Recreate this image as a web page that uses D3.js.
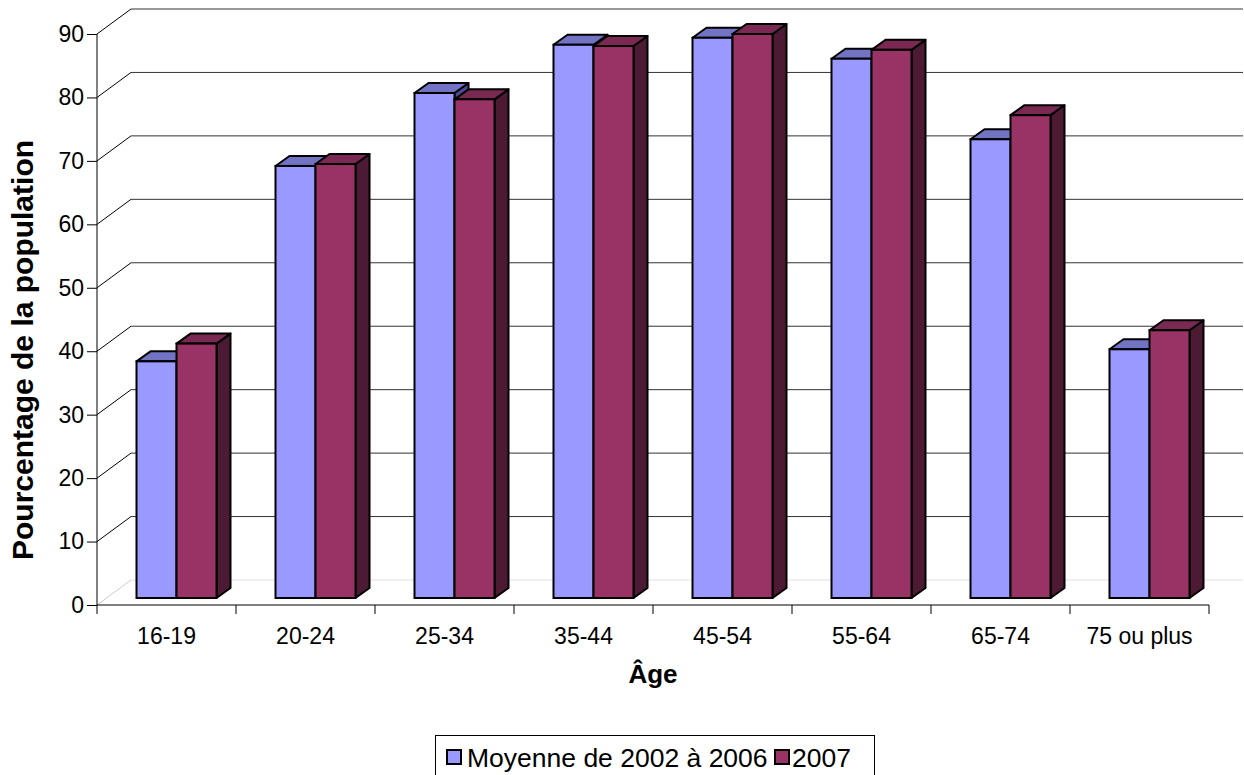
<!DOCTYPE html>
<html><head><meta charset="utf-8">
<script src="https://cdn.jsdelivr.net/npm/d3@7"></script>
<style>
html,body{margin:0;padding:0;background:#fff;overflow:hidden;}
svg{display:block;font-family:"Liberation Sans",Arial,sans-serif;}
</style></head>
<body>
<svg id="c" width="1244" height="775"></svg>
<script>
const categories = ["16-19","20-24","25-34","35-44","45-54","55-64","65-74","75 ou plus"];
const seriesNames = ["Moyenne de 2002 à 2006","2007"];
const moyenne = [37.3,68.1,79.6,87.2,88.3,85.0,72.3,39.2];
const y2007 = [40.1,68.4,78.6,87.0,88.9,86.4,76.1,42.2];
const yTicks = [0,10,20,30,40,50,60,70,80,90];
const colors = ["#9999FF","#993366"];
const topColors = ["#7373C4","#7A2952"];
const sideColors = ["#4A4A99","#4D1A33"];

const svg = d3.select("#c");
const FONT = "Liberation Sans, Arial, sans-serif";
const x0 = 97, x1 = 1209, yBase = 605, yTop = 34;
const wall = {dx:34, dy:-25};
const front = {dx:10, dy:-7};
const depth = {dx:14, dy:-10};

const x = d3.scaleBand().domain(categories).range([x0,x1]).padding(0);
const y = d3.scaleLinear().domain([0,90]).range([yBase,yTop]);

// back wall gridlines
const g = svg.append("g");
yTicks.forEach(t=>{
  const yy = y(t);
  g.append("line").attr("x1",x0).attr("y1",yy).attr("x2",x0+wall.dx).attr("y2",yy+wall.dy)
    .attr("stroke", t===0?"#cccccc":"#000").attr("stroke-width",1);
  g.append("line").attr("x1",x0+wall.dx).attr("y1",yy+wall.dy).attr("x2",x1+wall.dx).attr("y2",yy+wall.dy)
    .attr("stroke", t===0?"#e0e0e0":"#333").attr("stroke-width",1);
});

// bars
const bw = x.bandwidth();
const barW = 40;
const inner = d3.scaleBand().domain(seriesNames).range([0,2*barW]);
const data = [moyenne,y2007];
const bars = svg.append("g");
categories.forEach((c,i)=>{
  seriesNames.forEach((s,j)=>{
    const v = data[j][i];
    const xl = x(c) + (bw-2*barW)/2 + inner(s) + front.dx;
    const xr = xl + inner.bandwidth();
    const yb = yBase + front.dy;
    const yt = y(v) + front.dy;
    bars.append("path").attr("d",`M${xr},${yb}L${xr+depth.dx},${yb+depth.dy}L${xr+depth.dx},${yt+depth.dy}L${xr},${yt}Z`)
      .attr("fill",sideColors[j]).attr("stroke","#000").attr("stroke-width",2).attr("stroke-linejoin","round");
    bars.append("path").attr("d",`M${xl},${yt}L${xl+depth.dx},${yt+depth.dy}L${xr+depth.dx},${yt+depth.dy}L${xr},${yt}Z`)
      .attr("fill",topColors[j]).attr("stroke","#000").attr("stroke-width",2).attr("stroke-linejoin","round");
    bars.append("rect").attr("x",xl).attr("y",yt).attr("width",xr-xl).attr("height",yb-yt)
      .attr("fill",colors[j]).attr("stroke","#000").attr("stroke-width",2);
  });
});

// y axis
const yAxis = d3.axisLeft(y).tickValues(yTicks).tickSize(10).tickPadding(3);
const ya = svg.append("g").attr("transform",`translate(${x0},0)`).call(yAxis)
  .attr("font-size",null).attr("font-family",null);
ya.select(".domain").attr("stroke","#000").attr("d",`M0,${yTop}V${yBase}`);
ya.selectAll(".tick line").attr("stroke","#000");
ya.selectAll("text").style("font-size","23px").style("font-family",FONT).attr("fill","#000");

// x axis
const xAxis = d3.axisBottom(x).tickSize(0).tickPadding(23);
const xa = svg.append("g").attr("transform",`translate(0,${yBase})`).call(xAxis)
  .attr("font-size",null).attr("font-family",null);
xa.select(".domain").attr("stroke","#000").attr("d",`M${x0},0H${x1}`);
xa.selectAll("text").style("font-size","23px").style("font-family",FONT).attr("fill","#000");
const bounds = categories.map(c=>x(c)).concat([x1]);
xa.selectAll(".bound").data(bounds).enter().append("line").attr("class","bound")
  .attr("x1",d=>d).attr("x2",d=>d).attr("y1",0).attr("y2",9).attr("stroke","#000");

// titles
svg.append("text").attr("x",653).attr("y",683).attr("text-anchor","middle")
  .style("font-size","26px").attr("font-weight","bold").text("Âge");
svg.append("text").attr("transform","translate(33,350) rotate(-90)").attr("text-anchor","middle")
  .style("font-size","30px").attr("font-weight","bold").text("Pourcentage de la population");

// legend
const lg = svg.append("g");
lg.append("rect").attr("x",435.5).attr("y",735.5).attr("width",439).attr("height",50)
  .attr("fill","#fff").attr("stroke","#000").attr("stroke-width",1);
const legendItems = [{x:447,tx:467},{x:775,tx:792}];
seriesNames.forEach((s,j)=>{
  lg.append("rect").attr("x",legendItems[j].x).attr("y",750).attr("width",14).attr("height",14)
    .attr("fill",colors[j]).attr("stroke","#000").attr("stroke-width",2);
  lg.append("text").attr("x",legendItems[j].tx).attr("y",767).style("font-size","26.5px").text(s);
});
</script>
</body></html>
